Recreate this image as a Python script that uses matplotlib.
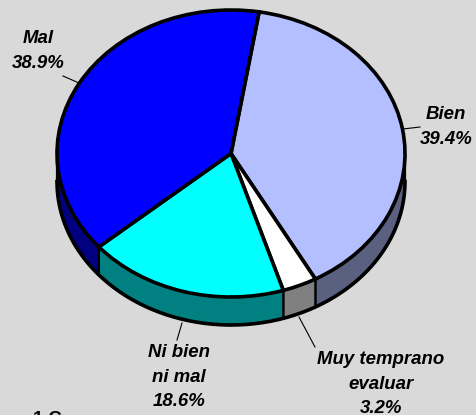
import matplotlib
matplotlib.use("Agg")
import matplotlib.pyplot as plt
import numpy as np

W, H = 477, 415
plt.rcParams['font.family'] = ['Liberation Sans', 'DejaVu Sans']

labels = ['Bien\n39.4%', 'Muy temprano\nevaluar\n3.2%', 'Ni bien\nni mal\n18.6%', 'Mal\n38.9%']
values = [39.4, 3.2, 18.6, 38.9]
top_colors = ['#B3BFFF', '#FFFFFF', '#00FFFF', '#0000FF']
side_colors = ['#596080', '#808080', '#008080', '#000080']
label_pos = [(446, 127), (381, 384), (179, 377), (38, 51)]
leaders = [((403, 129), (420, 127)), ((299, 317), (315, 347)), ((182, 323), (177, 340)), ((79, 83), (63, 76))]
fragment = '1 C'

cx, cy, rx, ry, depth = 231, 153.5, 174, 143.5, 28
start_cw = 9.3

fig = plt.figure(figsize=(W / 100, H / 100), dpi=100, facecolor='#D9D9D9')
ax = fig.add_axes([0, 0, 1, 1])
d = depth / ry

# side walls
fracs = np.array(values) / sum(values) * 360
edges = start_cw + np.concatenate([[0], np.cumsum(fracs)])
for i, col in enumerate(side_colors):
    a0, a1 = max(edges[i], 90), min(edges[i + 1], 270)
    if a1 <= a0:
        continue
    t = np.radians(np.linspace(a0, a1, 80))
    x, y = np.sin(t), np.cos(t)
    ax.fill(np.r_[x, x[::-1]], np.r_[y, y[::-1] - d], facecolor=col,
            edgecolor='black', linewidth=1.6, joinstyle='round', zorder=1)
tt = np.radians(np.linspace(90, 270, 200))
ax.plot(np.sin(tt), np.cos(tt) - d, color='black', lw=2.6, zorder=2)

# top face
ax.pie(values, colors=top_colors, startangle=90 - start_cw, counterclock=False,
       radius=1, wedgeprops=dict(edgecolor='black', linewidth=2.6, zorder=3))

ax.set_aspect('auto')
ax.set_xlim((0 - cx) / rx, (W - cx) / rx)
ax.set_ylim((cy - H) / ry, cy / ry)
ax.set_axis_off()
ax.patch.set_visible(False)


def px(x, y):
    return x / W, 1 - y / H


for (p, q) in leaders:
    a, b = px(*p), px(*q)
    fig.add_artist(plt.Line2D([a[0], b[0]], [a[1], b[1]], color='black', lw=0.8))

for lab, pos in zip(labels, label_pos):
    fx, fy = px(*pos)
    fig.text(fx, fy, lab, ha='center', va='center', fontsize=13.4, fontweight='bold',
             fontstyle='italic', color='black', linespacing=1.56)

fx, fy = px(47, 411)
fig.text(fx, fy, fragment, ha='center', va='top', fontsize=13.4, fontweight='bold', color='black')

fig.savefig('out.png', dpi=100, facecolor=fig.get_facecolor())
